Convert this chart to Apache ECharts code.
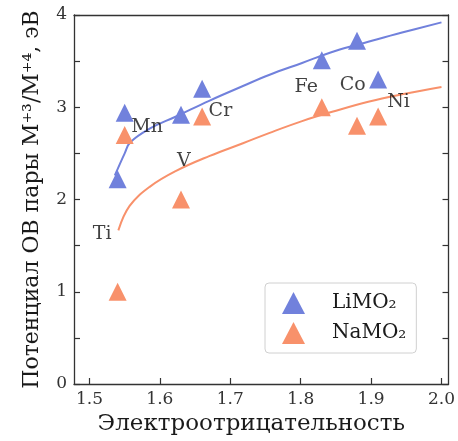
<!DOCTYPE html>
<html>
<head>
<meta charset="utf-8">
<script src="https://cdn.jsdelivr.net/npm/echarts@6/dist/echarts.min.js"></script>
<style>html,body{margin:0;padding:0;background:#fff}#c{width:458px;height:441px}</style>
</head>
<body>
<div id="c"></div>
<script>
// Data
const elements = ['Ti', 'V', 'Cr', 'Mn', 'Fe', 'Co', 'Ni'];
const electroneg = [1.54, 1.63, 1.66, 1.55, 1.83, 1.88, 1.91];
const liValues = [2.22, 2.92, 3.20, 2.94, 3.51, 3.72, 3.30];
const naValues = [1.00, 2.00, 2.90, 2.70, 3.00, 2.80, 2.90];

const liFitX = [1.536, 1.550, 1.558, 1.586, 1.623, 1.670, 1.718, 1.755, 1.802, 1.849, 1.896, 1.944, 2.000];
const liFitY = [2.26, 2.50, 2.62, 2.77, 2.90, 3.07, 3.23, 3.35, 3.48, 3.61, 3.71, 3.81, 3.92];
const naFitX = [1.541, 1.557, 1.586, 1.623, 1.670, 1.718, 1.755, 1.802, 1.849, 1.896, 1.944, 2.000];
const naFitY = [1.665, 1.93, 2.14, 2.31, 2.47, 2.61, 2.72, 2.85, 2.96, 3.06, 3.14, 3.22];

const labelNames = ['Ti', 'Mn', 'V', 'Cr', 'Fe', 'Co', 'Ni'];
const labelX = [1.518, 1.582, 1.634, 1.686, 1.808, 1.874, 1.939];
const labelY = [1.62, 2.79, 2.42, 2.96, 3.22, 3.24, 3.06];

const xTicks = [1.5, 1.6, 1.7, 1.8, 1.9, 2.0];

const BLUE = '#7181dc';
const ORANGE = '#f8916b';
const FONT = 'DejaVu Serif';
const AX = '#333';

const zip = (a, b) => a.map((v, i) => [v, b[i]]);

const chart = echarts.init(document.getElementById('c'));
chart.setOption({
  animation: false,
  textStyle: { fontFamily: FONT },
  grid: { left: 74, right: 8, top: 15, bottom: 52, containLabel: false },
  legend: {
    data: ['LiMO₂', 'NaMO₂'],
    orient: 'vertical',
    left: 265, top: 283,
    padding: [9, 10, 9, 17],
    itemWidth: 23, itemHeight: 22, itemGap: 8,
    borderColor: '#d0d0d0', borderWidth: 1, borderRadius: 4,
    backgroundColor: '#fff',
    textStyle: { fontFamily: FONT, fontSize: 20, color: '#1a1a1a', padding: [0, 0, 0, 22] }
  },
  xAxis: [{
    type: 'value', min: 1.478, max: 2.01,
    name: 'Электроотрицательность', nameLocation: 'middle', nameGap: 29,
    nameTextStyle: { fontFamily: FONT, fontSize: 23, color: '#1a1a1a', padding: [0, 20, 0, 0] },
    axisLine: { show: true, lineStyle: { color: AX, width: 1.3 } },
    axisTick: { show: true, inside: true, length: 6, customValues: xTicks, lineStyle: { color: AX, width: 1.2 } },
    axisLabel: { customValues: xTicks, formatter: v => v.toFixed(1), fontFamily: FONT, fontSize: 17, color: '#333', margin: 7 },
    splitLine: { show: false }
  }, {
    type: 'value', position: 'top', min: 1.478, max: 2.01,
    axisLine: { show: true, onZero: false, lineStyle: { color: AX, width: 1.3 } },
    axisTick: { show: false }, axisLabel: { show: false }, splitLine: { show: false }
  }],
  yAxis: [{
    type: 'value', min: 0, max: 4, interval: 0.5,
    name: 'Потенциал ОВ пары M⁺³/M⁺⁴, эВ', nameLocation: 'middle', nameGap: 31,
    nameTextStyle: { fontFamily: FONT, fontSize: 22, color: '#1a1a1a' },
    axisLine: { show: true, lineStyle: { color: AX, width: 1.3 } },
    axisTick: { show: true, inside: true, length: 6, lineStyle: { color: AX, width: 1.2 } },
    axisLabel: { formatter: v => (Math.abs(v - Math.round(v)) < 1e-9 ? String(Math.round(v)) : ''), fontFamily: FONT, fontSize: 17, color: '#333', margin: 7 },
    splitLine: { show: false }
  }, {
    type: 'value', position: 'right', min: 0, max: 4, interval: 0.5,
    axisLine: { show: true, onZero: false, lineStyle: { color: AX, width: 1.3 } },
    axisTick: { show: true, inside: true, length: 6, lineStyle: { color: AX, width: 1.2 } },
    axisLabel: { show: false }, splitLine: { show: false }
  }],
  series: [
    {
      name: 'LiMO₂ fit', type: 'line', data: zip(liFitX, liFitY), smooth: 0.4,
      showSymbol: false, lineStyle: { color: BLUE, width: 2 }, z: 3, silent: true
    },
    {
      name: 'NaMO₂ fit', type: 'line', data: zip(naFitX, naFitY), smooth: 0.4,
      showSymbol: false, lineStyle: { color: ORANGE, width: 2 }, z: 3, silent: true
    },
    {
      name: 'LiMO₂', type: 'scatter', symbol: 'triangle', symbolSize: 18,
      data: zip(electroneg, liValues), itemStyle: { color: BLUE, opacity: 1 }, z: 4
    },
    {
      name: 'NaMO₂', type: 'scatter', symbol: 'triangle', symbolSize: 18,
      data: zip(electroneg, naValues), itemStyle: { color: ORANGE, opacity: 1 }, z: 4
    },
    {
      name: 'labels', type: 'scatter', symbolSize: 0, z: 5, silent: true,
      data: labelNames.map((n, i) => ({ name: n, value: [labelX[i], labelY[i]] })),
      label: { show: true, position: 'inside', formatter: p => p.name, fontFamily: FONT, fontSize: 19, color: '#111' }
    }
  ]
});
</script>
</body>
</html>
